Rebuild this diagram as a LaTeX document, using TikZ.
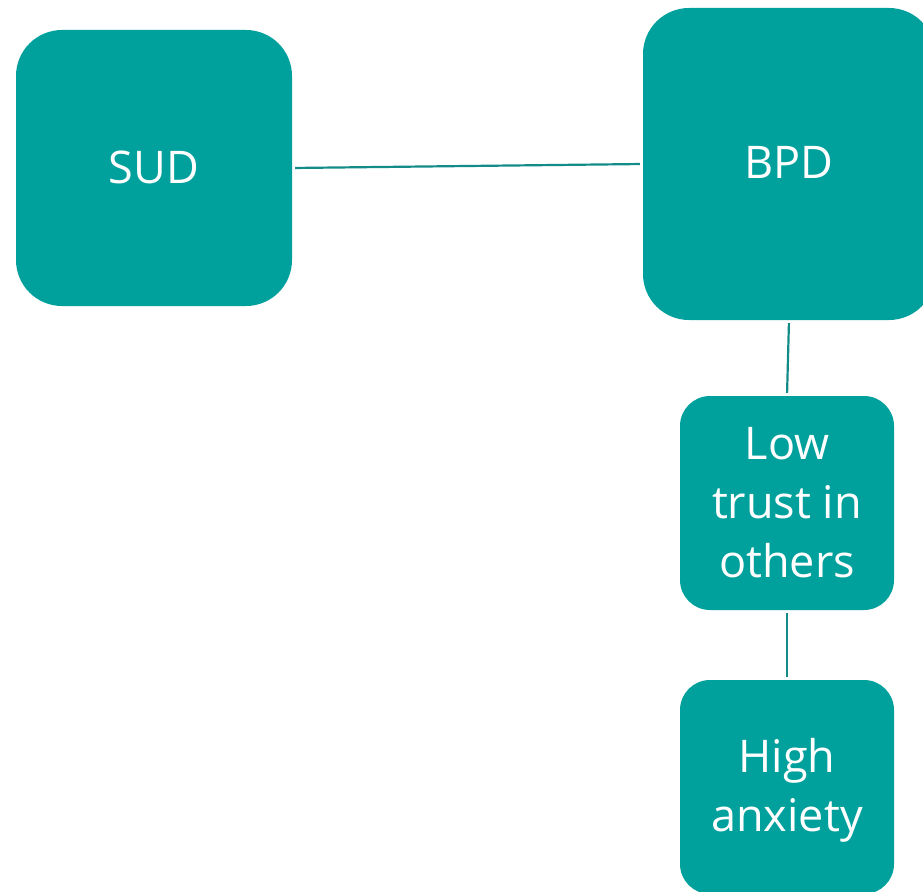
\documentclass[tikz,border=0pt]{standalone}
\usepackage{fontspec}
\setmainfont{Open Sans}
\definecolor{boxteal}{HTML}{00A19C}
\definecolor{lineteal}{HTML}{138C89}
\begin{document}
\begin{tikzpicture}[x=1pt,y=-1pt,
  box/.style={fill=boxteal, inner sep=0pt},
  bigbox/.style={box, rounded corners=46pt},
  smallbox/.style={box, rounded corners=30pt, minimum width=214pt, minimum height=214pt},
  boxtext/.style={text=white, align=center, inner sep=0pt,
    font=\fontsize{45}{59}\selectfont},
  link/.style={draw=lineteal, line width=2.2pt, shorten <=3pt, shorten >=3pt}]
  \useasboundingbox (0,0) rectangle (923,891);
  \clip (0,0) rectangle (923,891);
  % boxes
  \node[bigbox, minimum width=276pt, minimum height=276pt] (sud) at (154,168) {};
  \node[bigbox, minimum width=292pt, minimum height=312pt] (bpd) at (789,164) {};
  \node[smallbox] (trust) at (787,503) {};
  \node[smallbox] (anx) at (787,787) {};
  % box texts
  \node[boxtext] (sudtext) at ([yshift=1pt]sud.center) {SUD};
  \node[boxtext] (bpdtext) at ([yshift=1.5pt]bpd.center) {BPD};
  \node[boxtext] (trusttext) at ([yshift=0pt]trust.center) {Low\\trust in\\others};
  \node[boxtext] (anxtext) at ([yshift=-3pt]anx.center) {High\\anxiety};
  % connectors
  \draw[link] (sud.east) -- (bpd.west);
  \draw[link] (bpd.south) -- (trust.north);
  \draw[link] (trust.south) -- (anx.north);
\end{tikzpicture}
\end{document}
